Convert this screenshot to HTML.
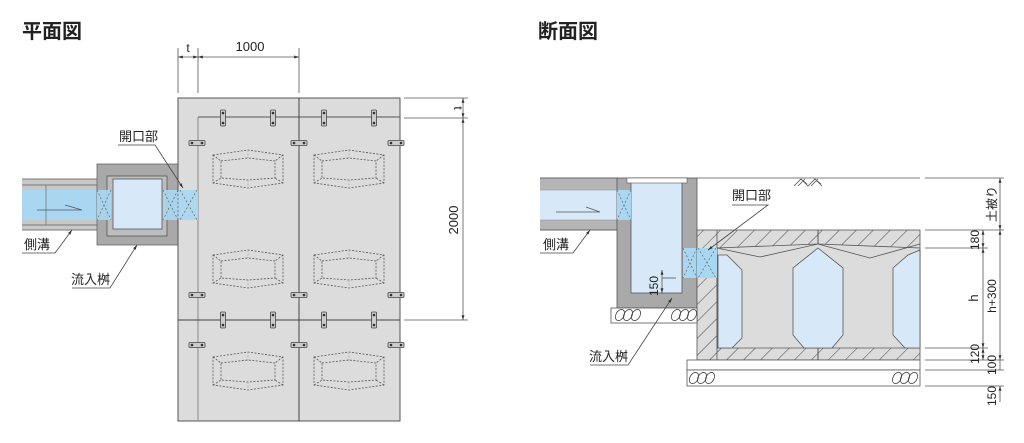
<!DOCTYPE html>
<html><head><meta charset="utf-8"><style>
html,body{margin:0;padding:0;background:#fff;}
svg{display:block;}
text{font-family:"Liberation Sans","Noto Sans CJK JP",sans-serif;fill:#222;}
</style></head><body>
<svg width="1024" height="443" viewBox="0 0 1024 443" xmlns="http://www.w3.org/2000/svg">
<defs>
<pattern id="hat" width="12" height="12" patternUnits="userSpaceOnUse" patternTransform="rotate(45)">
<rect width="12" height="12" fill="#dcdcdc"/><line x1="0" y1="0" x2="0" y2="12" stroke="#444" stroke-width="1"/></pattern>
<g id="dsh" fill="none" stroke="#555" stroke-width="0.8" stroke-dasharray="2,1.5">
<path d="M0,5 L35,0 L70,5 L70,33 L35,38 L0,33 Z"/>
<path d="M8,11 L35,8 L62,11 L62,28 L35,30 L8,28 Z"/>
<line x1="0" y1="5" x2="8" y2="11"/><line x1="70" y1="5" x2="62" y2="11"/>
<line x1="0" y1="33" x2="8" y2="28"/><line x1="70" y1="33" x2="62" y2="28"/>
<line x1="35" y1="0" x2="35" y2="8" stroke="#aaa"/><line x1="35" y1="30" x2="35" y2="38" stroke="#aaa"/>
</g>
<g id="bv"><rect x="-2.5" y="-8" width="5" height="16" rx="1" fill="#ccc" stroke="#444" stroke-width="0.8"/><circle cx="0" cy="-5" r="1.3" fill="#333"/><circle cx="0" cy="5" r="1.3" fill="#333"/></g>
<g id="bh"><rect x="-8" y="-2.5" width="16" height="5" rx="1" fill="#ccc" stroke="#444" stroke-width="0.8"/><circle cx="-5" cy="0" r="1.3" fill="#333"/><circle cx="5" cy="0" r="1.3" fill="#333"/></g>
<marker id="ar" viewBox="0 0 10 10" refX="10" refY="5" markerWidth="6" markerHeight="6" orient="auto-start-reverse"><path d="M0,2 L10,5 L0,8 z" fill="#333"/></marker>
</defs>

<text x="22" y="38" font-size="20" font-weight="bold">平面図</text>
<text x="538" y="38" font-size="20" font-weight="bold">断面図</text>

<!-- ===== PLAN ===== -->
<rect x="22" y="179" width="76" height="51" fill="#c8c8c8"/>
<line x1="22" y1="179" x2="98" y2="179" stroke="#777"/><line x1="22" y1="185" x2="98" y2="185" stroke="#777"/>
<line x1="22" y1="225" x2="98" y2="225" stroke="#777"/><line x1="22" y1="230" x2="98" y2="230" stroke="#777"/>
<rect x="22" y="190" width="76" height="30" fill="#a9d7f2"/>
<line x1="46" y1="185" x2="46" y2="225" stroke="#777" stroke-width="0.8"/>
<path d="M37,210 L82,210 L65,205" fill="none" stroke="#555" stroke-width="0.8"/>
<rect x="97" y="164" width="81" height="81" fill="#a9a9a9" stroke="#666" stroke-width="0.8"/>
<rect x="107" y="176" width="60" height="60" fill="#bdbdbd" stroke="#555" stroke-width="0.8"/>
<rect x="113" y="179" width="49" height="50" fill="#d7e8f8" stroke="#555" stroke-width="0.8"/>
<rect x="178" y="98" width="222" height="323" fill="#dcdcdc" stroke="#555" stroke-width="1"/>
<line x1="198" y1="117" x2="400" y2="117" stroke="#555"/>
<line x1="198" y1="117" x2="198" y2="421" stroke="#888"/>
<line x1="299" y1="98" x2="299" y2="421" stroke="#444"/>
<line x1="178" y1="320" x2="400" y2="320" stroke="#444"/>
<rect x="97" y="190" width="14" height="30" fill="#a9d7f2" opacity="0.9"/>
<rect x="163" y="190" width="35" height="30" fill="#a9d7f2" opacity="0.9"/>
<g stroke="#666" stroke-width="0.7" stroke-dasharray="2,2" fill="none">
<path d="M97,190 L111,220 M111,190 L97,220 M163,190 L178,220 M178,190 L163,220 M180,190 L197,220 M197,190 L180,220"/>
<line x1="178" y1="190" x2="178" y2="220"/>
</g>
<use href="#dsh" x="213" y="150"/><use href="#dsh" x="314" y="150"/>
<use href="#dsh" x="213" y="250"/><use href="#dsh" x="314" y="250"/>
<use href="#dsh" x="213" y="352"/><use href="#dsh" x="314" y="352"/>
<use href="#bv" x="223" y="118"/><use href="#bv" x="273" y="118"/><use href="#bv" x="324" y="118"/><use href="#bv" x="374" y="118"/>
<use href="#bv" x="223" y="320"/><use href="#bv" x="273" y="320"/><use href="#bv" x="324" y="320"/><use href="#bv" x="374" y="320"/>
<use href="#bh" x="197" y="143"/><use href="#bh" x="299" y="143"/><use href="#bh" x="396" y="143"/>
<use href="#bh" x="197" y="295"/><use href="#bh" x="299" y="295"/><use href="#bh" x="396" y="295"/>
<use href="#bh" x="197" y="345"/><use href="#bh" x="299" y="345"/><use href="#bh" x="396" y="345"/>
<g stroke="#555" stroke-width="0.8" fill="none">
<line x1="178" y1="48" x2="178" y2="93"/><line x1="198" y1="48" x2="198" y2="93"/><line x1="299" y1="48" x2="299" y2="93"/>
<line x1="178" y1="57" x2="198" y2="57" marker-start="url(#ar)" marker-end="url(#ar)"/>
<line x1="198" y1="57" x2="299" y2="57" marker-start="url(#ar)" marker-end="url(#ar)"/>
<line x1="404" y1="98" x2="468" y2="98"/><line x1="404" y1="118" x2="468" y2="118"/><line x1="404" y1="320" x2="468" y2="320"/>
<line x1="463" y1="98" x2="463" y2="118" marker-start="url(#ar)" marker-end="url(#ar)"/>
<line x1="463" y1="118" x2="463" y2="320" marker-start="url(#ar)" marker-end="url(#ar)"/>
</g>
<text x="188" y="52" font-size="12" text-anchor="middle">t</text>
<text x="250" y="51" font-size="13" text-anchor="middle">1000</text>
<text transform="translate(454,108) rotate(90)" font-size="12" text-anchor="middle">t</text>
<text transform="translate(458,220) rotate(-90)" font-size="13" text-anchor="middle">2000</text>
<g stroke="#444" stroke-width="0.8" fill="none">
<path d="M118,145 L155,145 L183,188" marker-end="url(#ar)"/>
<path d="M22,253 L55,253 L72,230" marker-end="url(#ar)"/>
<path d="M72,288 L110,288 L137,245" marker-end="url(#ar)"/>
</g>
<text x="119" y="141" font-size="13">開口部</text>
<text x="24" y="249" font-size="13">側溝</text>
<text x="71" y="284" font-size="13">流入桝</text>

<!-- ===== SECTION ===== -->
<rect x="540" y="178" width="78" height="52" fill="#b5b5b5"/>
<rect x="540" y="190" width="78" height="30" fill="#d7e8f8"/>
<line x1="540" y1="178" x2="618" y2="178" stroke="#666"/><line x1="540" y1="230" x2="618" y2="230" stroke="#666"/>
<line x1="540" y1="190" x2="618" y2="190" stroke="#888" stroke-width="0.6"/><line x1="540" y1="220" x2="618" y2="220" stroke="#888" stroke-width="0.6"/>
<path d="M556,212 L600,212 L586,207" fill="none" stroke="#555" stroke-width="0.8"/>
<rect x="617" y="178" width="80" height="130" fill="#a9a9a9" stroke="#555" stroke-width="0.8"/>
<rect x="631" y="178" width="51" height="115" fill="#d7e8f8" stroke="#555" stroke-width="0.8"/>
<rect x="627" y="178" width="60" height="5" fill="#fff" stroke="#555" stroke-width="0.6"/>
<rect x="617" y="190" width="14" height="30" fill="#a9d7f2"/>
<rect x="683" y="248" width="14" height="30" fill="#a9d7f2"/>
<rect x="697" y="230" width="223" height="130" fill="url(#hat)" stroke="#555" stroke-width="0.8"/>
<path d="M717,248 L818,244 L920,248 L920,348 L717,348 Z" fill="#dcdcdc" stroke="#555" stroke-width="0.8"/>
<path d="M717,248 L760,257 L818,244 L870,258 L920,244" fill="none" stroke="#555" stroke-width="0.8"/>
<polygon points="718,255 727,255 742,270 742,338 732,348 718,348" fill="#d7e8f8" stroke="#555" stroke-width="0.8"/>
<polygon points="818,248 843,268 843,335 832,348 804,348 793,335 793,268" fill="#d7e8f8" stroke="#555" stroke-width="0.8"/>
<polygon points="920,250 908,255 893,268 893,335 905,348 920,348" fill="#d7e8f8" stroke="#555" stroke-width="0.8"/>
<line x1="818" y1="230" x2="818" y2="244" stroke="#555"/><line x1="818" y1="348" x2="818" y2="360" stroke="#555"/>
<line x1="717" y1="230" x2="717" y2="360" stroke="#555" stroke-width="0.8"/>
<rect x="697" y="248" width="20" height="30" fill="#a9d7f2"/>
<g stroke="#666" stroke-width="0.7" stroke-dasharray="2,2" fill="none">
<path d="M617,190 L631,220 M631,190 L617,220 M683,248 L697,278 M697,248 L683,278 M698,248 L716,278 M716,248 L698,278"/>
</g>
<rect x="611" y="308" width="86" height="15" fill="#fff" stroke="#555" stroke-width="0.8"/>
<rect x="687" y="360" width="233" height="10" fill="#fff" stroke="#555" stroke-width="0.8"/>
<rect x="687" y="370" width="233" height="16" fill="#fff" stroke="#555" stroke-width="0.8"/>
<g fill="none" stroke="#444" stroke-width="0.8">
<ellipse cx="620" cy="315" rx="4" ry="6" transform="rotate(30 620 315)"/><ellipse cx="628" cy="315" rx="4" ry="6" transform="rotate(30 628 315)"/><ellipse cx="636" cy="315" rx="4" ry="6" transform="rotate(30 636 315)"/>
<ellipse cx="676" cy="315" rx="4" ry="6" transform="rotate(30 676 315)"/><ellipse cx="684" cy="315" rx="4" ry="6" transform="rotate(30 684 315)"/><ellipse cx="692" cy="315" rx="4" ry="6" transform="rotate(30 692 315)"/>
<ellipse cx="694" cy="378" rx="4" ry="6" transform="rotate(30 694 378)"/><ellipse cx="702" cy="378" rx="4" ry="6" transform="rotate(30 702 378)"/><ellipse cx="710" cy="378" rx="4" ry="6" transform="rotate(30 710 378)"/>
<ellipse cx="897" cy="378" rx="4" ry="6" transform="rotate(30 897 378)"/><ellipse cx="905" cy="378" rx="4" ry="6" transform="rotate(30 905 378)"/><ellipse cx="913" cy="378" rx="4" ry="6" transform="rotate(30 913 378)"/>
</g>
<g stroke="#555" stroke-width="0.8" fill="none">
<line x1="697" y1="178" x2="920" y2="178"/>
<path d="M794,186 L801,179 L808,186 L815,179 L822,186 M798,186 L805,179 M811,186 L818,179 M801,179 L807,184 M815,179 L821,184"/>
</g>
<g stroke="#555" stroke-width="0.8" fill="none">
<line x1="925" y1="178" x2="1004" y2="178"/>
<line x1="925" y1="230" x2="1004" y2="230"/>
<line x1="925" y1="248" x2="988" y2="248"/>
<line x1="925" y1="348" x2="988" y2="348"/>
<line x1="925" y1="360" x2="1004" y2="360"/>
<line x1="925" y1="370" x2="1004" y2="370"/>
<line x1="925" y1="386" x2="1004" y2="386"/>
<line x1="1000" y1="178" x2="1000" y2="230" marker-start="url(#ar)" marker-end="url(#ar)"/>
<line x1="1000" y1="230" x2="1000" y2="360" marker-start="url(#ar)" marker-end="url(#ar)"/>
<line x1="1000" y1="360" x2="1000" y2="370" />
<line x1="1000" y1="386" x2="1000" y2="402" marker-start="url(#ar)"/>
<line x1="983" y1="230" x2="983" y2="248" marker-start="url(#ar)" marker-end="url(#ar)"/>
<line x1="983" y1="248" x2="983" y2="348" marker-start="url(#ar)" marker-end="url(#ar)"/>
<line x1="983" y1="348" x2="983" y2="360" marker-start="url(#ar)" marker-end="url(#ar)"/>
<line x1="662" y1="270" x2="662" y2="293" marker-start="url(#ar)" marker-end="url(#ar)"/>
<line x1="662" y1="278" x2="676" y2="278"/>
</g>
<g font-size="12">
<text transform="translate(996,204) rotate(-90)" text-anchor="middle">土被り</text>
<text transform="translate(979,240) rotate(-90)" text-anchor="middle">180</text>
<text transform="translate(978,298) rotate(-90)" text-anchor="middle" font-size="13">h</text>
<text transform="translate(996,296) rotate(-90)" text-anchor="middle">h+300</text>
<text transform="translate(979,354) rotate(-90)" text-anchor="middle">120</text>
<text transform="translate(996,365) rotate(-90)" text-anchor="middle">100</text>
<text transform="translate(996,396) rotate(-90)" text-anchor="middle">150</text>
<text transform="translate(658,286) rotate(-90)" text-anchor="middle">150</text>
</g>
<g stroke="#444" stroke-width="0.8" fill="none">
<path d="M732,205 L768,205 L708,250" marker-end="url(#ar)"/>
<path d="M540,253 L573,253 L590,230" marker-end="url(#ar)"/>
<path d="M590,365 L628,365 L672,298" marker-end="url(#ar)"/>
</g>
<text x="732" y="200" font-size="13">開口部</text>
<text x="543" y="249" font-size="13">側溝</text>
<text x="589" y="361" font-size="13">流入桝</text>
</svg>
</body></html>
